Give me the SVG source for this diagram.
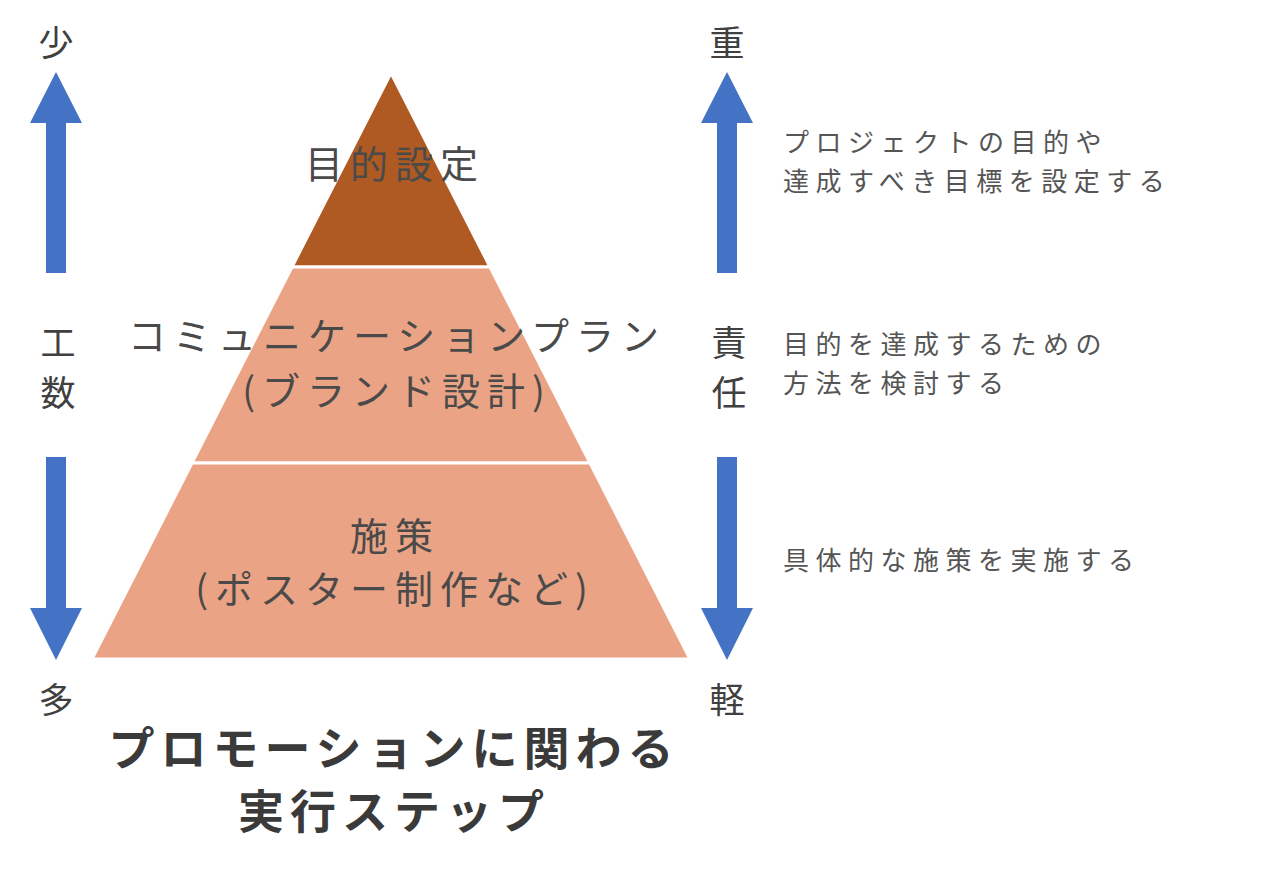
<svg xmlns="http://www.w3.org/2000/svg" width="1280" height="876" viewBox="0 0 1280 876">
<style>
text{font-family:"Noto Sans CJK JP","Noto Sans",sans-serif;fill:#404040}
.side{font-size:35px;text-anchor:middle}
.desc{font-size:26px;fill:#555;letter-spacing:6.5px}
.lvl{font-size:38px;text-anchor:middle;fill:#4a4a4a;letter-spacing:7px}
.title{font-size:46px;font-weight:bold;text-anchor:middle;fill:#3a3a3a;letter-spacing:6px}
.arr{fill:#4472C4}
</style>
<rect width="1280" height="876" fill="#fff"/>
<g id="connectors">
<polygon class="arr" points="46,273 66,273 66,123 82,123 56,72 30,123 46,123"/>
<polygon class="arr" points="46,457 66,457 66,608 82,608 56,660 30,608 46,608"/>
<polygon class="arr" points="717,273 737,273 737,123 753,123 727,72 701,123 717,123"/>
<polygon class="arr" points="717,457 737,457 737,608 753,608 727,660 701,608 717,608"/>
</g>
<g id="top"><polygon points="391,73 490,267 292,267" fill="#AE5A22" stroke="#fff" stroke-width="3"/>
<text class="lvl" x="395" y="178">目的設定</text></g>
<g id="middle"><polygon points="292,267 490,267 590,463 192,463" fill="#EBA385" stroke="#fff" stroke-width="3"/>
<text class="lvl" x="397" y="350">コミュニケーションプラン</text>
<text class="lvl" x="397" y="405">(ブランド設計)</text></g>
<g id="bottom"><polygon points="192,463 590,463 690,659 92,659" fill="#EBA385" stroke="#fff" stroke-width="3"/>
<text class="lvl" x="395" y="550">施策</text>
<text class="lvl" x="395" y="603">(ポスター制作など)</text></g>
<g id="labels">
<text class="side" x="56" y="56">少</text>
<text class="side" x="58" y="356">工</text>
<text class="side" x="58" y="406">数</text>
<text class="side" x="56" y="713">多</text>
<text class="side" x="727" y="56">重</text>
<text class="side" x="729" y="356">責</text>
<text class="side" x="729" y="406">任</text>
<text class="side" x="727" y="713">軽</text>
<text class="desc" x="783" y="152">プロジェクトの目的や</text>
<text class="desc" x="783" y="191">達成すべき目標を設定する</text>
<text class="desc" x="783" y="354">目的を達成するための</text>
<text class="desc" x="783" y="393">方法を検討する</text>
<text class="desc" x="783" y="570">具体的な施策を実施する</text>
<text class="title" x="394" y="765">プロモーションに関わる</text>
<text class="title" x="394" y="828">実行ステップ</text>
</g>
</svg>
